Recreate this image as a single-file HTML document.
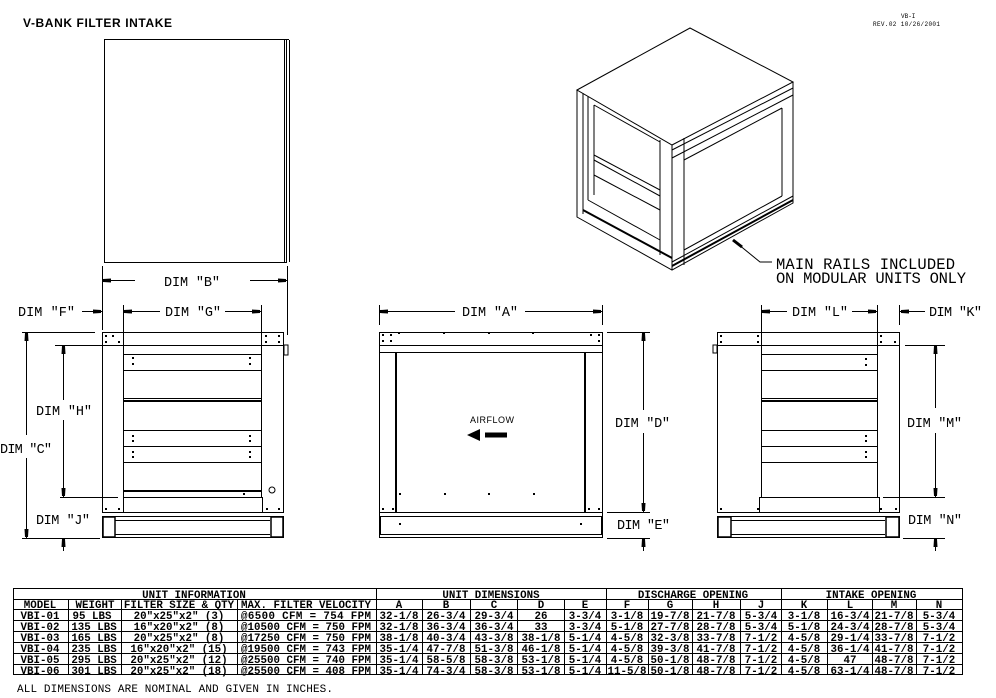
<!DOCTYPE html>
<html><head><meta charset="utf-8"><style>
html,body{margin:0;padding:0;background:#fff;}
svg{display:block;}
text{font-family:"Liberation Mono",monospace;fill:#000;}
.d{font-size:13.5px;}
.t{font-size:10.8px;text-anchor:middle;font-weight:600;}
</style></head><body>
<svg width="996" height="698" viewBox="0 0 996 698" xmlns="http://www.w3.org/2000/svg">
<defs>
<marker id="a" viewBox="0 0 10 6" refX="10" refY="3" markerWidth="10" markerHeight="6" markerUnits="userSpaceOnUse" orient="auto-start-reverse"><path d="M1,1 L9,1.5 L9,4.5 L1,5Z" fill="#000"/></marker>
</defs>
<text x="23" y="27" style="font-family:'Liberation Sans',sans-serif;font-size:12px;font-weight:bold" textLength="149">V-BANK FILTER INTAKE</text>
<text x="901" y="18" style="font-size:6px">VB-I</text>
<text x="873" y="26" style="font-size:6px" textLength="67">REV.02 10/26/2001</text>

<g fill="none" stroke="#000" stroke-width="1">
<rect x="104.5" y="39.5" width="182" height="223"/>
<line x1="284.5" y1="40" x2="284.5" y2="262"/>
<line x1="289.5" y1="40" x2="289.5" y2="262"/>
<line x1="284" y1="39.5" x2="289" y2="39.5"/>

<line x1="102.5" y1="266" x2="102.5" y2="330"/>
<line x1="287.5" y1="266" x2="287.5" y2="335"/>
<line x1="102" y1="280.5" x2="135" y2="280.5" marker-start="url(#a)"/>
<line x1="250" y1="280.5" x2="287" y2="280.5" marker-end="url(#a)"/>

<!-- LEFT VIEW -->
<rect x="102.5" y="332.5" width="181" height="13"/>
<line x1="102.5" y1="345" x2="102.5" y2="512"/>
<line x1="283.5" y1="345" x2="283.5" y2="512"/>
<rect x="284" y="345" width="4" height="10"/>
<line x1="123.5" y1="345" x2="123.5" y2="512"/>
<line x1="261.5" y1="345" x2="261.5" y2="497"/>
<line x1="123" y1="354.5" x2="261" y2="354.5"/>
<line x1="123" y1="370.5" x2="261" y2="370.5"/>
<line x1="123" y1="398.5" x2="261" y2="398.5"/>
<line x1="123" y1="401" x2="261" y2="401" stroke-width="2"/>
<line x1="123" y1="430.5" x2="261" y2="430.5"/>
<line x1="123" y1="446.5" x2="261" y2="446.5"/>
<line x1="123" y1="462.5" x2="261" y2="462.5"/>
<line x1="123" y1="491" x2="261" y2="491" stroke-width="2"/>
<line x1="123" y1="497.5" x2="262" y2="497.5"/>
<line x1="262.5" y1="497" x2="262.5" y2="512"/>
<line x1="102" y1="512.5" x2="284" y2="512.5"/>
<rect x="102.5" y="516.5" width="181" height="21"/>
<line x1="115" y1="520.5" x2="270" y2="520.5"/>
<line x1="115" y1="534.5" x2="270" y2="534.5"/>
<rect x="103" y="517" width="12" height="20" stroke-width="1.5"/>
<rect x="271" y="517" width="12" height="20" stroke-width="1.5"/>
<circle cx="272" cy="490" r="3"/>

<line x1="82" y1="311.5" x2="102" y2="311.5" marker-end="url(#a)"/>
<line x1="123.5" y1="305" x2="123.5" y2="345"/>
<line x1="261.5" y1="305" x2="261.5" y2="345"/>
<line x1="123" y1="311.5" x2="160" y2="311.5" marker-start="url(#a)"/>
<line x1="225" y1="311.5" x2="261" y2="311.5" marker-end="url(#a)"/>
<line x1="22" y1="332.5" x2="95" y2="332.5"/>
<line x1="22" y1="538.5" x2="100" y2="538.5"/>
<line x1="26.5" y1="332" x2="26.5" y2="435" marker-start="url(#a)"/>
<line x1="26.5" y1="458" x2="26.5" y2="538" marker-end="url(#a)"/>
<line x1="55" y1="345.5" x2="120" y2="345.5"/>
<line x1="60" y1="497.5" x2="118" y2="497.5"/>
<line x1="63.5" y1="345" x2="63.5" y2="400" marker-start="url(#a)"/>
<line x1="63.5" y1="420" x2="63.5" y2="497" marker-end="url(#a)"/>
<line x1="63.5" y1="551" x2="63.5" y2="538" marker-end="url(#a)"/>

<!-- MIDDLE VIEW -->
<rect x="379.5" y="332.5" width="223" height="13"/>
<line x1="379.5" y1="345" x2="379.5" y2="512"/>
<line x1="602.5" y1="345" x2="602.5" y2="512"/>
<line x1="379" y1="352.5" x2="602" y2="352.5"/>
<line x1="396" y1="352" x2="396" y2="512" stroke-width="2"/>
<line x1="585" y1="352" x2="585" y2="512" stroke-width="2"/>
<line x1="379" y1="512.5" x2="603" y2="512.5"/>
<rect x="380.5" y="516.5" width="221" height="18"/>
<rect x="379.5" y="512.5" width="223" height="25"/>
<line x1="379.5" y1="305" x2="379.5" y2="325"/>
<line x1="602.5" y1="305" x2="602.5" y2="325"/>
<line x1="379" y1="311.5" x2="455" y2="311.5" marker-start="url(#a)"/>
<line x1="525" y1="311.5" x2="602" y2="311.5" marker-end="url(#a)"/>
<line x1="607" y1="332.5" x2="650" y2="332.5"/>
<line x1="607" y1="512.5" x2="650" y2="512.5"/>
<line x1="607" y1="538.5" x2="650" y2="538.5"/>
<line x1="643.5" y1="332" x2="643.5" y2="410" marker-start="url(#a)"/>
<line x1="643.5" y1="433" x2="643.5" y2="512" marker-end="url(#a)"/>
<line x1="643.5" y1="551" x2="643.5" y2="538" marker-end="url(#a)"/>

<!-- RIGHT VIEW -->
<rect x="717.5" y="332.5" width="182" height="13"/>
<rect x="713" y="345" width="4" height="8"/>
<line x1="717.5" y1="345" x2="717.5" y2="512"/>
<line x1="899.5" y1="345" x2="899.5" y2="512"/>
<line x1="761.5" y1="332" x2="761.5" y2="497"/>
<line x1="877.5" y1="332" x2="877.5" y2="497"/>
<line x1="761" y1="354.5" x2="877" y2="354.5"/>
<line x1="761" y1="370.5" x2="877" y2="370.5"/>
<line x1="761" y1="398.5" x2="877" y2="398.5"/>
<line x1="761" y1="401" x2="877" y2="401" stroke-width="2"/>
<line x1="761" y1="430.5" x2="877" y2="430.5"/>
<line x1="761" y1="446.5" x2="877" y2="446.5"/>
<line x1="761" y1="462.5" x2="877" y2="462.5"/>
<rect x="759.5" y="497.5" width="120" height="15"/>
<line x1="717" y1="512.5" x2="900" y2="512.5"/>
<rect x="717.5" y="516.5" width="182" height="21"/>
<line x1="731" y1="520.5" x2="885" y2="520.5"/>
<line x1="731" y1="534.5" x2="885" y2="534.5"/>
<rect x="718" y="517" width="13" height="20" stroke-width="1.5"/>
<rect x="886" y="517" width="13" height="20" stroke-width="1.5"/>
<line x1="761.5" y1="305" x2="761.5" y2="332"/>
<line x1="877.5" y1="305" x2="877.5" y2="332"/>
<line x1="899.5" y1="305" x2="899.5" y2="325"/>
<line x1="761" y1="311.5" x2="787" y2="311.5" marker-start="url(#a)"/>
<line x1="852" y1="311.5" x2="877" y2="311.5" marker-end="url(#a)"/>
<line x1="925" y1="311.5" x2="900" y2="311.5" marker-end="url(#a)"/>
<line x1="905" y1="345.5" x2="945" y2="345.5"/>
<line x1="883" y1="497.5" x2="945" y2="497.5"/>
<line x1="903" y1="538.5" x2="945" y2="538.5"/>
<line x1="935.5" y1="345" x2="935.5" y2="408" marker-start="url(#a)"/>
<line x1="935.5" y1="433" x2="935.5" y2="497" marker-end="url(#a)"/>
<line x1="935.5" y1="551" x2="935.5" y2="538" marker-end="url(#a)"/>

<!-- 3D VIEW -->
<polygon points="577,90 690,28 793,82 672,145"/>
<polyline points="577,90 577,217 672,270 793,203 793,82"/>
<line x1="672" y1="145" x2="672" y2="270"/>
<line x1="684" y1="138" x2="684" y2="265"/>
<line x1="583" y1="93" x2="583" y2="214"/>
<line x1="588" y1="96" x2="588" y2="200"/>
<line x1="660" y1="140" x2="660" y2="255"/>
<polyline points="594,105 660,142"/>
<polyline points="594,105 594,195"/>
<line x1="594" y1="155" x2="660" y2="190"/>
<line x1="594" y1="160" x2="660" y2="196"/>
<line x1="594" y1="175" x2="660" y2="210"/>
<line x1="588" y1="200" x2="660" y2="240"/>
<line x1="583" y1="210" x2="672" y2="258" stroke-width="2"/>
<line x1="672" y1="150" x2="793" y2="88"/>
<line x1="672" y1="158" x2="793" y2="95"/>
<line x1="684" y1="160" x2="782" y2="108"/>
<line x1="782" y1="108" x2="782" y2="196"/>
<line x1="684" y1="250" x2="782" y2="196"/>
<line x1="672" y1="262" x2="793" y2="196"/>
<line x1="672" y1="266" x2="793" y2="200" stroke-width="2"/>
<polyline points="733,240 760,262 772,262"/>
<line x1="733" y1="240" x2="742" y2="247" stroke-width="3"/>

<line x1="485" y1="435" x2="507" y2="435" stroke-width="5"/>
</g>
<g fill="#000">
<polygon points="467,435 480,429 480,441"/>
<!-- dots -->
<rect x="105" y="335" width="2" height="2"/><rect x="112" y="335" width="2" height="2"/><rect x="105" y="341" width="2" height="2"/><rect x="118" y="341" width="2" height="2"/>
<rect x="265" y="335" width="2" height="2"/><rect x="278" y="335" width="2" height="2"/><rect x="265" y="341" width="2" height="2"/><rect x="278" y="341" width="2" height="2"/>
<rect x="132" y="357" width="2" height="2"/><rect x="132" y="363" width="2" height="2"/><rect x="249" y="357" width="2" height="2"/><rect x="249" y="363" width="2" height="2"/>
<rect x="132" y="435" width="2" height="2"/><rect x="132" y="440" width="2" height="2"/><rect x="249" y="435" width="2" height="2"/><rect x="249" y="440" width="2" height="2"/>
<rect x="132" y="451" width="2" height="2"/><rect x="132" y="456" width="2" height="2"/><rect x="249" y="451" width="2" height="2"/><rect x="249" y="456" width="2" height="2"/>
<rect x="243" y="493" width="2" height="2"/><rect x="105" y="508" width="2" height="2"/><rect x="118" y="508" width="2" height="2"/><rect x="266" y="508" width="2" height="2"/><rect x="278" y="508" width="2" height="2"/>
<rect x="382" y="334" width="2" height="2"/><rect x="382" y="340" width="2" height="2"/><rect x="390" y="334" width="2" height="2"/><rect x="390" y="340" width="2" height="2"/><rect x="398" y="332" width="2" height="2"/>
<rect x="443" y="332" width="2" height="2"/><rect x="488" y="332" width="2" height="2"/><rect x="532" y="332" width="2" height="2"/><rect x="590" y="334" width="2" height="2"/><rect x="598" y="334" width="2" height="2"/><rect x="598" y="340" width="2" height="2"/>
<rect x="399" y="493" width="2" height="2"/><rect x="444" y="493" width="2" height="2"/><rect x="488" y="493" width="2" height="2"/><rect x="533" y="493" width="2" height="2"/>
<rect x="382" y="508" width="2" height="2"/><rect x="392" y="508" width="2" height="2"/><rect x="588" y="508" width="2" height="2"/><rect x="598" y="508" width="2" height="2"/>
<rect x="399" y="523" width="2" height="2"/><rect x="580" y="523" width="2" height="2"/>
<rect x="720" y="335" width="2" height="2"/><rect x="720" y="341" width="2" height="2"/><rect x="757" y="335" width="2" height="2"/><rect x="757" y="341" width="2" height="2"/>
<rect x="880" y="335" width="2" height="2"/><rect x="880" y="341" width="2" height="2"/><rect x="894" y="341" width="2" height="2"/>
<rect x="865" y="358" width="2" height="2"/><rect x="865" y="364" width="2" height="2"/><rect x="865" y="435" width="2" height="2"/><rect x="865" y="440" width="2" height="2"/><rect x="865" y="451" width="2" height="2"/><rect x="865" y="456" width="2" height="2"/>
<rect x="720" y="508" width="2" height="2"/><rect x="757" y="508" width="2" height="2"/><rect x="880" y="508" width="2" height="2"/><rect x="895" y="508" width="2" height="2"/>
</g>
<text x="470" y="423" style="font-family:'Liberation Sans',sans-serif;font-size:9px" textLength="44">AIRFLOW</text>

<text x="776" y="269" style="font-size:15.5px" textLength="179">MAIN RAILS INCLUDED</text>
<text x="776" y="283" style="font-size:15.5px" textLength="190">ON MODULAR UNITS ONLY</text>

<g class="d">
<text x="164" y="286" textLength="56">DIM "B"</text>
<text x="18" y="316" textLength="57">DIM "F"</text>
<text x="165" y="316" textLength="56">DIM "G"</text>
<text x="36" y="415" textLength="56">DIM "H"</text>
<text x="0" y="453" textLength="52">DIM "C"</text>
<text x="36" y="524" textLength="54">DIM "J"</text>
<text x="462" y="316" textLength="56">DIM "A"</text>
<text x="615" y="427" textLength="55">DIM "D"</text>
<text x="617" y="529" textLength="53">DIM "E"</text>
<text x="792" y="316" textLength="56">DIM "L"</text>
<text x="929" y="316" textLength="53">DIM "K"</text>
<text x="907" y="427" textLength="55">DIM "M"</text>
<text x="908" y="524" textLength="54">DIM "N"</text>
</g>

<!-- TABLE -->
<g fill="none" stroke="#000" stroke-width="1">
<rect x="13.5" y="588.5" width="949" height="86"/>
<line x1="13" y1="599.5" x2="963" y2="599.5"/>
<line x1="13" y1="609.5" x2="963" y2="609.5"/>
<line x1="13" y1="620.5" x2="963" y2="620.5"/>
<line x1="13" y1="631.5" x2="963" y2="631.5"/>
<line x1="13" y1="642.5" x2="963" y2="642.5"/>
<line x1="13" y1="653.5" x2="963" y2="653.5"/>
<line x1="13" y1="664.5" x2="963" y2="664.5"/>
<line x1="376.5" y1="588" x2="376.5" y2="675"/>
<line x1="606.5" y1="588" x2="606.5" y2="675"/>
<line x1="781.5" y1="588" x2="781.5" y2="675"/>
<line x1="68.5" y1="599" x2="68.5" y2="675"/><line x1="121.5" y1="599" x2="121.5" y2="675"/><line x1="237.5" y1="599" x2="237.5" y2="675"/>
<line x1="422.5" y1="599" x2="422.5" y2="675"/><line x1="470.5" y1="599" x2="470.5" y2="675"/><line x1="517.5" y1="599" x2="517.5" y2="675"/><line x1="564.5" y1="599" x2="564.5" y2="675"/>
<line x1="648.5" y1="599" x2="648.5" y2="675"/><line x1="692.5" y1="599" x2="692.5" y2="675"/><line x1="740.5" y1="599" x2="740.5" y2="675"/>
<line x1="827.5" y1="599" x2="827.5" y2="675"/><line x1="872.5" y1="599" x2="872.5" y2="675"/><line x1="916.5" y1="599" x2="916.5" y2="675"/>
</g>
<g class="t">
<text x="194" y="598">UNIT INFORMATION</text>
<text x="491" y="598">UNIT DIMENSIONS</text>
<text x="693" y="598">DISCHARGE OPENING</text>
<text x="871" y="598">INTAKE OPENING</text>
<text x="40" y="608">MODEL</text><text x="95" y="608">WEIGHT</text><text x="179" y="608">FILTER SIZE &amp; QTY</text><text x="306" y="608" textLength="130">MAX. FILTER VELOCITY</text>
<text x="399" y="608">A</text><text x="446" y="608">B</text><text x="494" y="608">C</text><text x="541" y="608">D</text><text x="585" y="608">E</text>
<text x="627" y="608">F</text><text x="670" y="608">G</text><text x="716" y="608">H</text><text x="761" y="608">J</text>
<text x="804" y="608">K</text><text x="850" y="608">L</text><text x="894" y="608">M</text><text x="939" y="608">N</text>
</g>
<g class="t">
<g transform="translate(0,619)"><text x="40">VBI-01</text><text x="92">95 LBS</text><text x="179">20"x25"x2" (3)</text><text x="306" textLength="130">@6500 CFM = 754 FPM</text><text x="399">32-1/8</text><text x="446">26-3/4</text><text x="494">29-3/4</text><text x="541">26</text><text x="585">3-3/4</text><text x="627">3-1/8</text><text x="670">19-7/8</text><text x="716">21-7/8</text><text x="761">5-3/4</text><text x="804">3-1/8</text><text x="850">16-3/4</text><text x="894">21-7/8</text><text x="939">5-3/4</text></g>
<g transform="translate(0,630)"><text x="40">VBI-02</text><text x="94">135 LBS</text><text x="179">16"x20"x2" (8)</text><text x="306" textLength="130">@10500 CFM = 750 FPM</text><text x="399">32-1/8</text><text x="446">36-3/4</text><text x="494">36-3/4</text><text x="541">33</text><text x="585">3-3/4</text><text x="627">5-1/8</text><text x="670">27-7/8</text><text x="716">28-7/8</text><text x="761">5-3/4</text><text x="804">5-1/8</text><text x="850">24-3/4</text><text x="894">28-7/8</text><text x="939">5-3/4</text></g>
<g transform="translate(0,641)"><text x="40">VBI-03</text><text x="94">165 LBS</text><text x="179">20"x25"x2" (8)</text><text x="306" textLength="130">@17250 CFM = 750 FPM</text><text x="399">38-1/8</text><text x="446">40-3/4</text><text x="494">43-3/8</text><text x="541">38-1/8</text><text x="585">5-1/4</text><text x="627">4-5/8</text><text x="670">32-3/8</text><text x="716">33-7/8</text><text x="761">7-1/2</text><text x="804">4-5/8</text><text x="850">29-1/4</text><text x="894">33-7/8</text><text x="939">7-1/2</text></g>
<g transform="translate(0,652)"><text x="40">VBI-04</text><text x="94">235 LBS</text><text x="179">16"x20"x2" (15)</text><text x="306" textLength="130">@19500 CFM = 743 FPM</text><text x="399">35-1/4</text><text x="446">47-7/8</text><text x="494">51-3/8</text><text x="541">46-1/8</text><text x="585">5-1/4</text><text x="627">4-5/8</text><text x="670">39-3/8</text><text x="716">41-7/8</text><text x="761">7-1/2</text><text x="804">4-5/8</text><text x="850">36-1/4</text><text x="894">41-7/8</text><text x="939">7-1/2</text></g>
<g transform="translate(0,663)"><text x="40">VBI-05</text><text x="94">295 LBS</text><text x="179">20"x25"x2" (12)</text><text x="306" textLength="130">@25500 CFM = 740 FPM</text><text x="399">35-1/4</text><text x="446">58-5/8</text><text x="494">58-3/8</text><text x="541">53-1/8</text><text x="585">5-1/4</text><text x="627">4-5/8</text><text x="670">50-1/8</text><text x="716">48-7/8</text><text x="761">7-1/2</text><text x="804">4-5/8</text><text x="850">47</text><text x="894">48-7/8</text><text x="939">7-1/2</text></g>
<g transform="translate(0,674)"><text x="40">VBI-06</text><text x="94">301 LBS</text><text x="179">20"x25"x2" (18)</text><text x="306" textLength="130">@25500 CFM = 408 FPM</text><text x="399">35-1/4</text><text x="446">74-3/4</text><text x="494">58-3/8</text><text x="541">53-1/8</text><text x="585">5-1/4</text><text x="627">11-5/8</text><text x="670">50-1/8</text><text x="716">48-7/8</text><text x="761">7-1/2</text><text x="804">4-5/8</text><text x="850">63-1/4</text><text x="894">48-7/8</text><text x="939">7-1/2</text></g>
</g>
<text x="17" y="692" style="font-size:11px" textLength="316">ALL DIMENSIONS ARE NOMINAL AND GIVEN IN INCHES.</text>
</svg>
</body></html>
